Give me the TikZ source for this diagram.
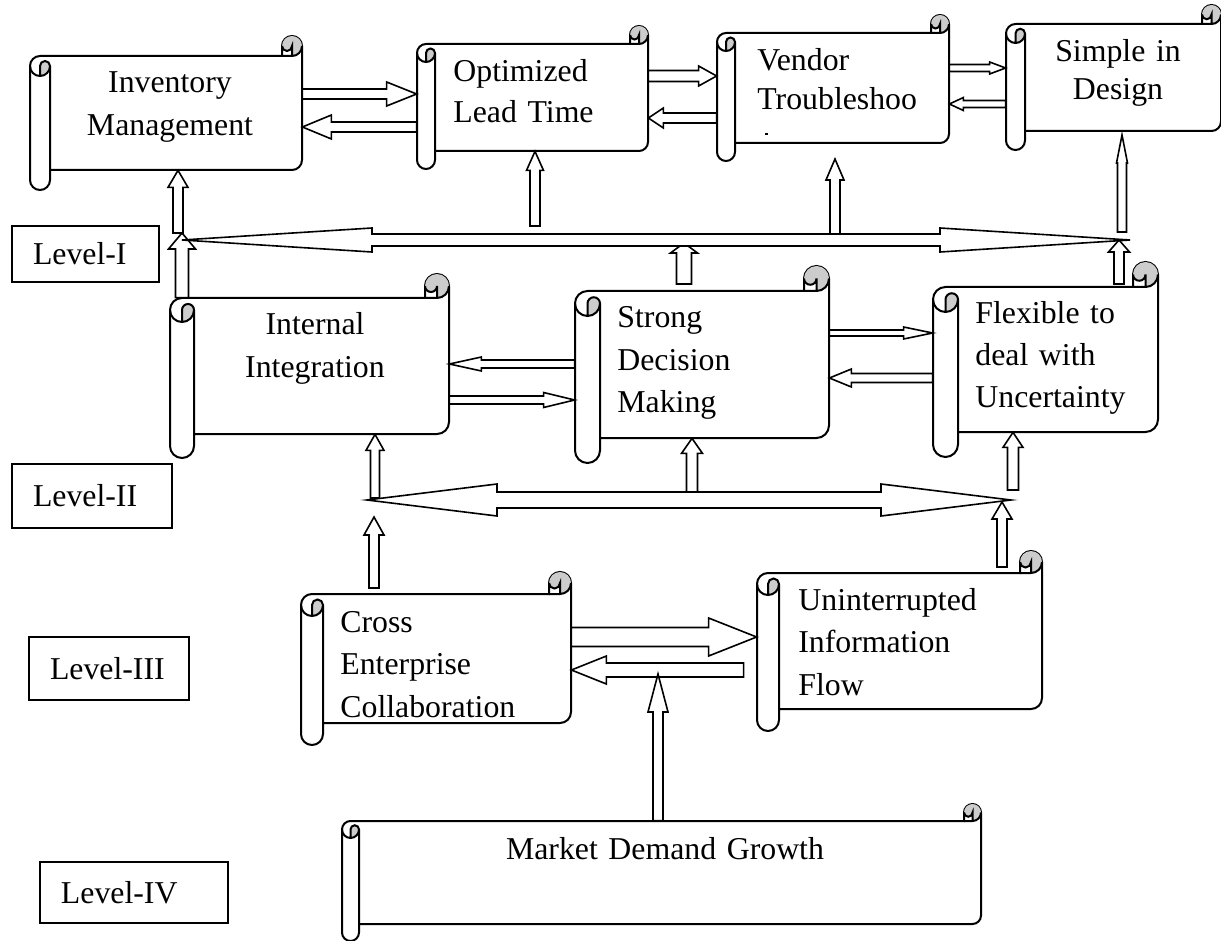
\documentclass[tikz,border=0pt]{standalone}
\usepackage{fontspec}
\setmainfont{Liberation Serif}
\usetikzlibrary{calc, fit}
\definecolor{curl}{gray}{0.8}

% scroll: name, left, top, right, bottom, roll size (px)
\newcommand\scroll[6]{%
  \pgfmathsetmacro\scL{#2}\pgfmathsetmacro\scT{#3}%
  \pgfmathsetmacro\scR{#4}\pgfmathsetmacro\scB{#5}%
  \pgfmathsetmacro\scC{#6}\pgfmathsetmacro\scH{#6/2}\pgfmathsetmacro\scQ{#6/4}%
  \draw[scrollbody] (\scL,\scT+1.5*\scC)
    arc[start angle=180, end angle=270, radius=\scH]
    -- (\scR-\scC,\scT+\scC) -- (\scR-\scC,\scT+\scH)
    arc[start angle=180, end angle=360, radius=\scH]
    -- (\scR,\scB-1.5*\scC)
    arc[start angle=0, end angle=90, radius=\scH]
    -- (\scL+\scC,\scB-\scC) -- (\scL+\scC,\scB-\scH)
    arc[start angle=0, end angle=180, radius=\scH]
    -- cycle;
  \fill[curl] (\scL+\scH,\scT+2*\scC)
    arc[start angle=90, end angle=0, radius=\scH]
    arc[start angle=0, end angle=-180, radius=\scQ] -- cycle;
  \fill[curl] (\scR-\scH,\scT+\scC)
    arc[start angle=90, end angle=-180, radius=\scH]
    arc[start angle=180, end angle=0, radius=\scQ] -- cycle;
  \draw[scrollline] (\scR-\scC,\scT+\scC) -- (\scR-\scH,\scT+\scC)
    arc[start angle=90, end angle=0, radius=\scH]
    (\scR-\scH,\scT+\scC) -- (\scR-\scH,\scT+\scH)
    arc[start angle=0, end angle=180, radius=\scQ]
    (\scL+\scH,\scT+2*\scC) -- (\scL+\scH,\scT+1.5*\scC)
    arc[start angle=180, end angle=360, radius=\scQ]
    arc[start angle=0, end angle=180, radius=\scH]
    (\scL+\scC,\scT+1.5*\scC) -- (\scL+\scC,\scB-\scC);
  \node[fit={(\scL,\scT+\scC) (\scR,\scB-\scC)}, inner sep=0pt] (#1) {};
}

% block arrow: tail, tip, shaft half width, head half width, head length (px)
\newcommand\blockarrow[5]{%
  \draw[arrowbox] let \p1=(#1), \p2=(#2),
      \n1={atan2(\y2-\y1,\x2-\x1)}, \n2={veclen(\x2-\x1,\y2-\y1)} in
    [shift={(\p1)}, rotate=\n1]
    ({0pt},{#3*0.5pt}) -- ({\n2-#5*0.5pt},{#3*0.5pt}) -- ({\n2-#5*0.5pt},{#4*0.5pt})
    -- ({\n2*1pt},{0pt}) -- ({\n2-#5*0.5pt},{-#4*0.5pt}) -- ({\n2-#5*0.5pt},{-#3*0.5pt})
    -- ({0pt},{-#3*0.5pt}) -- cycle;
}

% two-headed block arrow: tip, tip, shaft half width, head half width, head length (px)
\newcommand\twowayarrow[5]{%
  \draw[arrowbox] let \p1=(#1), \p2=(#2),
      \n1={atan2(\y2-\y1,\x2-\x1)}, \n2={veclen(\x2-\x1,\y2-\y1)} in
    [shift={(\p1)}, rotate=\n1]
    ({0pt},{0pt}) -- ({#5*0.5pt},{#4*0.5pt}) -- ({#5*0.5pt},{#3*0.5pt})
    -- ({\n2-#5*0.5pt},{#3*0.5pt}) -- ({\n2-#5*0.5pt},{#4*0.5pt}) -- ({\n2*1pt},{0pt})
    -- ({\n2-#5*0.5pt},{-#4*0.5pt}) -- ({\n2-#5*0.5pt},{-#3*0.5pt})
    -- ({#5*0.5pt},{-#3*0.5pt}) -- ({#5*0.5pt},{-#4*0.5pt}) -- cycle;
}

\begin{document}
\begin{tikzpicture}[
  x=0.5pt, y=-0.5pt,
  scrollbody/.style={draw, fill=white, line width=1pt},
  scrollline/.style={draw, line width=1pt},
  arrowbox/.style={draw, fill=white, line width=0.8pt, line join=miter},
  lbl/.style={inner sep=0pt, text width=150pt, font=\fontsize{15.9}{21.25}\selectfont},
  levelbox/.style={
    draw,
    line width=1pt,
    anchor=north west,
    inner xsep=10.5pt,
    inner ysep=0pt,
    align=left,
    font=\fontsize{15.9}{19}\selectfont,
  }
]
\useasboundingbox (0,0) rectangle (1221,941);

\scroll{inv}{30}{36}{302}{190}{20}
\scroll{opt}{417}{26}{648}{169}{18}
\scroll{vendor}{717}{15}{949}{161}{18}
\scroll{simple}{1006}{5}{1221}{150}{19}
\scroll{internal}{170}{274}{449}{458}{24}
\scroll{strong}{575}{266}{829}{463}{25}
\scroll{flexible}{933}{262}{1158}{457}{25}
\scroll{crossent}{301}{572}{571}{745}{22}
\scroll{uninfo}{757}{551}{1042}{731}{22}
\scroll{market}{342}{804}{981}{941}{17}

\node[lbl, align=center, anchor=base, font=\fontsize{15.9}{21.5}\selectfont] (invT) at (170,93) {Inventory\\Management};
\node[lbl, align=left, anchor=base west, font=\fontsize{15.9}{20.5}\selectfont] (optT) at (453,82) {Optimized\\Lead Time};
\node[lbl, align=left, anchor=base west, font=\fontsize{15.9}{19.5}\selectfont] (vendorT) at (757,71) {Vendor\\Troubleshoo};
\fill (765,133) rectangle (768,135.5);
\node[lbl, align=center, anchor=base, font=\fontsize{15.9}{19}\selectfont] (simpleT) at (1118,62) {Simple in\\Design};
\node[lbl, align=center, anchor=base] (internalT) at (315,335) {Internal\\Integration};
\node[lbl, align=left, anchor=base west] (strongT) at (617,328) {Strong\\Decision\\Making};
\node[lbl, align=left, anchor=base west] (flexibleT) at (975,323) {Flexible to\\deal with\\Uncertainty};
\node[lbl, align=left, anchor=base west] (crossentT) at (340,632) {Cross\\Enterprise\\Collaboration};
\node[lbl, align=left, anchor=base west] (uninfoT) at (798,610) {Uninterrupted\\Information\\Flow};
\node[lbl, align=center, anchor=base, text width=300pt] (marketT) at (665,859) {Market Demand Growth};

\node[levelbox, text width=52.5pt, minimum height=28pt] (levelI) at (11,225) {Level-I};
\node[levelbox, text width=59pt, minimum height=32pt] (levelII) at (11,463) {Level-II};
\node[levelbox, text width=59pt, minimum height=31.5pt] (levelIII) at (28,636) {Level-III};
\node[levelbox, text width=73pt, minimum height=30.5pt] (levelIV) at (39,861) {Level-IV};

% level I
\blockarrow{inv.east |- 0,94}{opt.west |- 0,94}{5}{12}{30}
\blockarrow{opt.west |- 0,127}{inv.east |- 0,127}{5}{12}{29}
\blockarrow{opt.east |- 0,76}{vendor.west |- 0,76}{5.5}{10}{18}
\blockarrow{vendor.west |- 0,118}{opt.east |- 0,118}{5}{10}{15}
\blockarrow{vendor.east |- 0,68}{simple.west |- 0,68}{3.5}{6}{16}
\blockarrow{simple.west |- 0,104}{vendor.east |- 0,104}{3.5}{6.5}{14}
\blockarrow{178,233}{inv.south -| 178,0}{5}{10}{17}
\blockarrow{internal.north -| 182,0}{182,233}{6.5}{13.5}{16}
\blockarrow{535,226}{opt.south -| 535,0}{5}{8.5}{19}
\blockarrow{835,238}{835,159}{5}{9}{21}
\blockarrow{1122,232}{1122,135}{4.5}{5.5}{28}
\blockarrow{684,284}{684,243}{7.5}{13.5}{10}
\blockarrow{1119,284}{1119,240}{5}{10.5}{12}
\twowayarrow{182,240}{1130,240}{6}{12}{190}

% level II
\blockarrow{strong.west |- 0,364}{internal.east |- 0,364}{4}{7}{32}
\blockarrow{internal.east |- 0,400}{strong.west |- 0,400}{4}{7.5}{31}
\blockarrow{strong.east |- 0,333}{flexible.west |- 0,333}{3}{6}{29}
\blockarrow{flexible.west |- 0,378}{strong.east |- 0,378}{4.5}{9}{22}
\blockarrow{375,498}{internal.south -| 375,0}{4.5}{9}{16}
\blockarrow{374,588}{374,517}{5}{10}{18}
\blockarrow{692,492}{strong.south -| 692,0}{5.5}{10.5}{15}
\blockarrow{1013,490}{flexible.south -| 1013,0}{5.5}{10}{15}
\blockarrow{1002,567}{1002,502}{5}{10}{17}
\twowayarrow{367,500}{1011,500}{8}{16}{130}

% level III
\blockarrow{crossent.east |- 0,637}{uninfo.west |- 0,637}{9.5}{19}{48}
\blockarrow{$(uninfo.west |- 0,670)+(-13,0)$}{crossent.east |- 0,670}{7}{14}{35}
\blockarrow{market.north -| 658,0}{658,674}{5}{10}{38}

\end{tikzpicture}
\end{document}
